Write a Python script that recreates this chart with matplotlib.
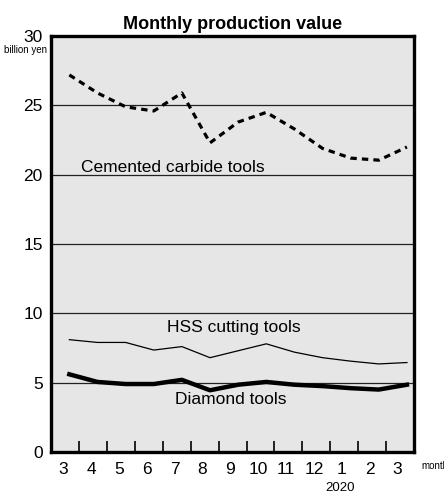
import numpy as np
import matplotlib
matplotlib.use("Agg")
import matplotlib.pyplot as plt

plt.rcParams['font.family'] = ['Liberation Sans', 'DejaVu Sans']

# data (billion yen)
months = ['3', '4', '5', '6', '7', '8', '9', '10', '11', '12', '1', '2', '3']
cemented_carbide = [27.2, 25.9, 24.9, 24.6, 25.9, 22.3, 23.8, 24.5, 23.3, 21.9, 21.2, 21.05, 22.0]
hss_cutting = [8.1, 7.9, 7.9, 7.35, 7.6, 6.8, 7.3, 7.8, 7.2, 6.8, 6.55, 6.35, 6.45]
diamond = [5.6, 5.05, 4.9, 4.9, 5.2, 4.45, 4.85, 5.05, 4.85, 4.75, 4.6, 4.5, 4.85]
y_ticks = [0, 5, 10, 15, 20, 25, 30]

x = np.arange(len(months))

fig = plt.figure(figsize=(4.44, 4.95), dpi=100)
ax = fig.add_axes([0.115, 0.087, 0.818, 0.840])
ax.set_facecolor('#e6e6e6')

for v in y_ticks[1:-1]:
    ax.axhline(v, color='#222222', lw=0.9, zorder=1)

ax.plot(x, cemented_carbide, color='black', lw=2.3, ls=(0, (2.0, 1.6)), zorder=3)
ax.plot(x, hss_cutting, color='black', lw=0.9, zorder=3)
ax.plot(x, diamond, color='black', lw=3.2, zorder=3)

ax.set_xlim(-0.65, 12.26)
ax.set_ylim(0, 30)

for s in ax.spines.values():
    s.set_linewidth(2.4)

ax.set_yticks(y_ticks)
ax.set_yticklabels([str(v) for v in y_ticks], fontsize=12.5)
ax.tick_params(axis='y', length=0, pad=6)

ax.set_xticks(x * 0.99 - 0.22)
ax.set_xticklabels(months, fontsize=12.5)
ax.set_xticks(0.36 + np.arange(12) * 0.99, minor=True)
ax.tick_params(axis='x', which='major', length=0, pad=7)
ax.tick_params(axis='x', which='minor', direction='in', length=8, width=1.2)

ax.set_title('Monthly production value', fontsize=13, fontweight='bold', pad=5)

ax.text(0.4, 20.5, 'Cemented carbide tools', fontsize=12.5, ha='left', va='center')
ax.text(5.85, 9.0, 'HSS cutting tools', fontsize=12.5, ha='center', va='center')
ax.text(5.75, 3.8, 'Diamond tools', fontsize=12.5, ha='center', va='center')

fig.text(0.01, 0.898, 'billion yen', fontsize=7, fontstretch='condensed', ha='left', va='center')
fig.text(0.948, 0.058, 'month', fontsize=7, fontstretch='condensed', ha='left', va='center')
ax.text(9.63, -2.6, '2020', fontsize=9.5, ha='center', va='center')

fig.savefig('out.png', dpi=100)
